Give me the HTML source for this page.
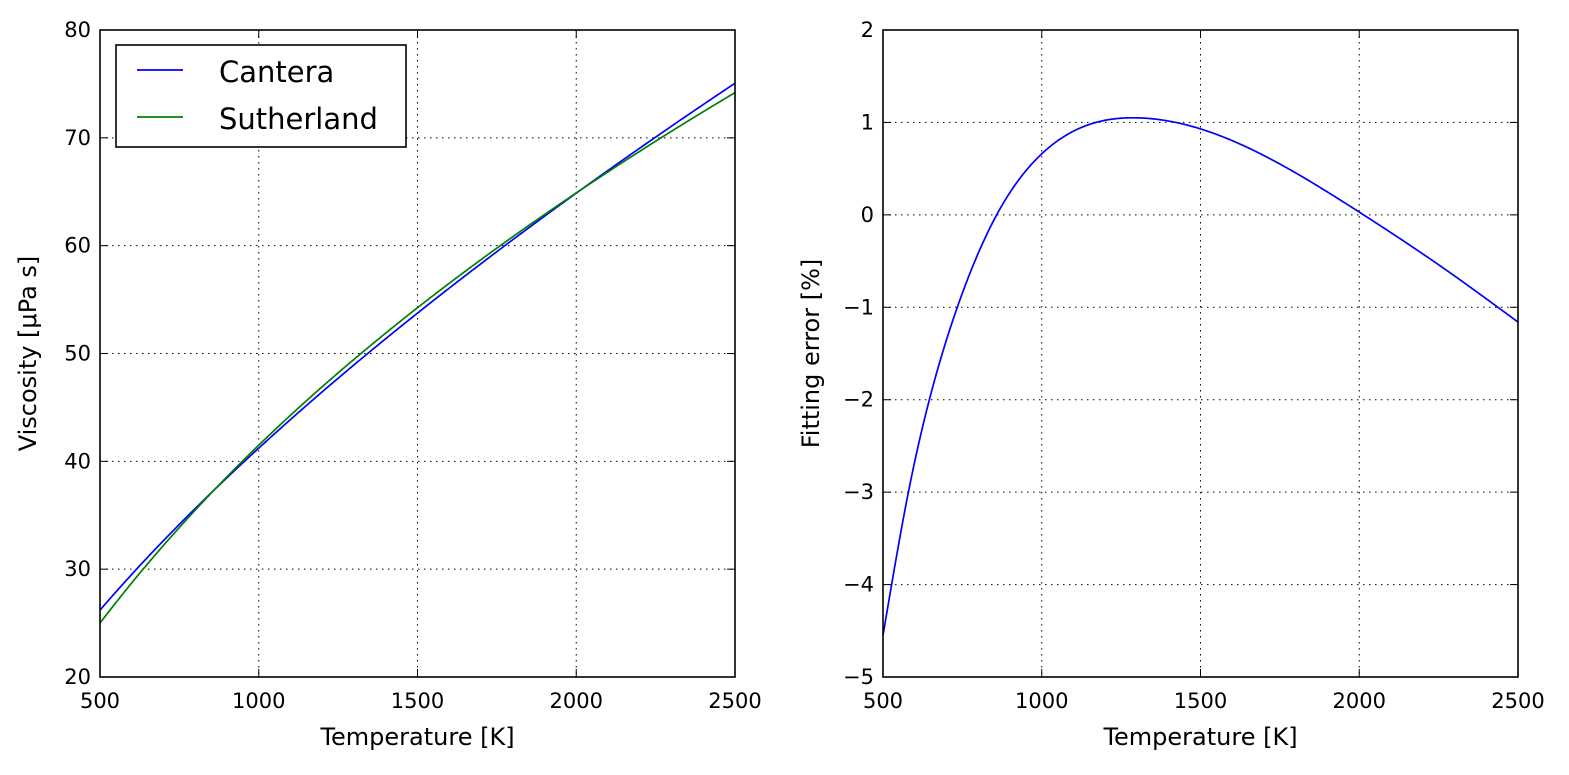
<!DOCTYPE html>
<html><head><meta charset="utf-8">
<style>
html,body{margin:0;padding:0;background:#fff;}
svg text{font-family:"DejaVu Sans","Liberation Sans",sans-serif;fill:#000;}
</style></head>
<body>
<svg id="s" width="1569" height="770" xmlns="http://www.w3.org/2000/svg">
<rect width="1569" height="770" fill="#fff"/>
<g id="g"></g>
</svg>
<script>
const NS="http://www.w3.org/2000/svg";
const g=document.getElementById('g');
function el(t,a,txt){const e=document.createElementNS(NS,t);for(const k in a)e.setAttribute(k,a[k]);if(txt!==undefined)e.textContent=txt;g.appendChild(e);return e;}
const P=[[500,-4.55],[580,-3.0],[646,-2.0],[734,-1.0],[858,0],[1000,0.66],[1294,1.05],[1500,0.93],[1750,0.55],[2000,0.03],[2275,-0.60],[2500,-1.16]];
const n=P.length,xs=P.map(p=>p[0]),ys=P.map(p=>p[1]);
const M=new Array(n).fill(0);
(function(){const a=[],b=[],c=[],d=[];for(let i=1;i<n-1;i++){const h0=xs[i]-xs[i-1],h1=xs[i+1]-xs[i];a.push(h0);b.push(2*(h0+h1));c.push(h1);d.push(6*((ys[i+1]-ys[i])/h1-(ys[i]-ys[i-1])/h0));}
const m=b.length;for(let i=1;i<m;i++){const w=a[i]/b[i-1];b[i]-=w*c[i-1];d[i]-=w*d[i-1];}
const s=new Array(m);s[m-1]=d[m-1]/b[m-1];for(let i=m-2;i>=0;i--)s[i]=(d[i]-c[i]*s[i+1])/b[i];for(let i=0;i<m;i++)M[i+1]=s[i];})();
function err(T){let i=0;while(i<n-2&&T>xs[i+1])i++;const h=xs[i+1]-xs[i],A=(xs[i+1]-T)/h,B=(T-xs[i])/h;return A*ys[i]+B*ys[i+1]+((A*A*A-A)*M[i]+(B*B*B-B)*M[i+1])*h*h/6;}
function cant(T){return 26.2*Math.pow(T/500,0.654);}
function axes(x0,x1,y0,y1,ymin,ymax,ystep,xlab,ylab){
  const X=T=>x0+(T-500)/2000*(x1-x0);
  const Y=v=>y1-(v-ymin)/(ymax-ymin)*(y1-y0);
  for(let T=500;T<=2500;T+=500){const x=X(T);
    if(T>500&&T<2500)el('line',{x1:x,x2:x,y1:y0,y2:y1,stroke:'#000','stroke-dasharray':'1.5,4.5','stroke-width':1});
    el('line',{x1:x,x2:x,y1:y1,y2:y1-8,stroke:'#000'});el('line',{x1:x,x2:x,y1:y0,y2:y0+8,stroke:'#000'});
    el('text',{x:x,y:y1+31,'text-anchor':'middle','font-size':21},T);}
  for(let v=ymin;v<=ymax+1e-9;v+=ystep){const y=Y(v);
    if(v>ymin&&v<ymax)el('line',{x1:x0,x2:x1,y1:y,y2:y,stroke:'#000','stroke-dasharray':'1.5,4.5','stroke-width':1});
    el('line',{x1:x0,x2:x0+8,y1:y,y2:y,stroke:'#000'});el('line',{x1:x1,x2:x1-8,y1:y,y2:y,stroke:'#000'});
    el('text',{x:x0-9,y:y+7,'text-anchor':'end','font-size':21},v<0?'\u2212'+(-v):v);}
  el('text',{x:(x0+x1)/2,y:745,'text-anchor':'middle','font-size':24},xlab);
  el('text',{x:0,y:0,'text-anchor':'middle','font-size':24,transform:`translate(${x0-64},${(y0+y1)/2}) rotate(-90)`},ylab);
  return [X,Y];
}
function path(X,Y,f,c){let d='';for(let T=500;T<=2500;T+=4)d+=(T==500?'M':'L')+X(T).toFixed(2)+','+Y(f(T)).toFixed(2);el('path',{d:d,fill:'none',stroke:c,'stroke-width':1.7});}
let [X1,Y1]=axes(100,735,30,677,20,80,10,'Temperature [K]','Viscosity [\u03bcPa s]');
path(X1,Y1,cant,'#0000ff');
path(X1,Y1,T=>cant(T)*(1+err(T)/100),'#008000');
let [X2,Y2]=axes(883,1518,30,677,-5,2,1,'Temperature [K]','Fitting error [%]');
path(X2,Y2,err,'#0000ff');
el('rect',{x:100,y:30,width:635,height:647,fill:'none',stroke:'#000','stroke-width':1.6});
el('rect',{x:883,y:30,width:635,height:647,fill:'none',stroke:'#000','stroke-width':1.6});
el('rect',{x:116,y:45,width:290,height:102,fill:'#fff',stroke:'#000','stroke-width':1.6});
el('line',{x1:137,x2:183,y1:70,y2:70,stroke:'#0000ff','stroke-width':1.7});
el('line',{x1:137,x2:183,y1:117,y2:117,stroke:'#008000','stroke-width':1.7});
el('text',{x:219,y:82,'font-size':29},'Cantera');
el('text',{x:219,y:129,'font-size':29},'Sutherland');
</script>
</body></html>
